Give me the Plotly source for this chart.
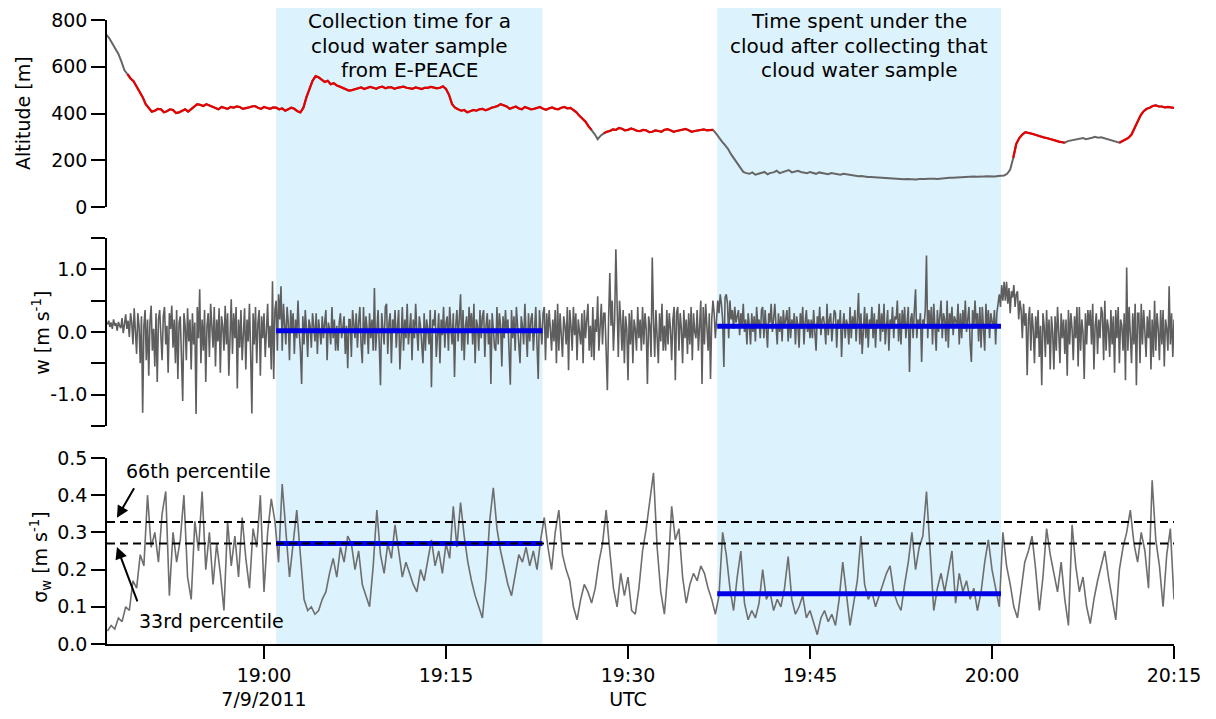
import plotly.graph_objects as go

# ---------------- data (time in minutes after 18:00 UTC, 7/9/2011) ----------------
x_range = [47.06, 135.0]
tick_vals = [60, 75, 90, 105, 120, 135]
tick_text = ["19:00<br>7/9/2011", "19:15", "19:30<br>UTC", "19:45", "20:00", "20:15"]

shade_1 = [61.0, 82.95]     # cloud water sample collection
shade_2 = [97.35, 120.74]   # time spent under the cloud

alt_t0, alt_dt = 47.0, 0.25
altitude = [
    738, 722, 700, 680, 655, 622, 585, 568, 550, 538, 515, 495, 470, 440, 425, 408,
    412, 420, 418, 405, 410, 418, 415, 402, 405, 412, 418, 408, 420, 428, 440, 437,
    432, 440, 435, 428, 425, 418, 428, 424, 420, 428, 425, 430, 428, 420, 422, 426,
    430, 432, 425, 420, 428, 424, 420, 426, 425, 418, 422, 412, 418, 425, 420, 410,
    405, 425, 470, 510, 540, 560, 555, 545, 535, 540, 525, 530, 520, 515, 510, 502,
    498, 500, 505, 510, 512, 505, 508, 514, 510, 506, 512, 515, 508, 512, 512, 506,
    510, 514, 515, 510, 508, 506, 512, 508, 505, 510, 510, 514, 512, 508, 510, 516,
    505, 480, 440, 425, 418, 412, 415, 405, 410, 415, 412, 418, 420, 414, 418, 425,
    428, 432, 440, 434, 430, 420, 425, 430, 422, 418, 428, 424, 418, 420, 425, 428,
    420, 416, 422, 426, 420, 418, 425, 428, 422, 424, 415, 405, 390, 378, 365, 345,
    330, 312, 290, 305, 315, 322, 325, 332, 330, 338, 335, 328, 330, 336, 332, 326,
    325, 330, 328, 320, 322, 328, 325, 322, 330, 333, 328, 322, 325, 328, 330, 334,
    328, 322, 325, 328, 330, 332, 328, 330, 330, 315, 295, 280, 265, 248, 225, 205,
    185, 165, 150, 145, 142, 148, 138, 142, 145, 150, 140, 146, 148, 155, 145, 150,
    152, 158, 148, 152, 155, 150, 148, 145, 150, 146, 142, 148, 145, 140, 140, 145,
    142, 138, 138, 142, 140, 136, 135, 134, 132, 133, 130, 128, 128, 127, 126, 124,
    124, 123, 122, 121, 122, 121, 120, 119, 120, 119, 118, 118, 120, 119, 120, 121,
    122, 121, 120, 122, 124, 124, 125, 125, 126, 127, 128, 129, 130, 130, 130, 129,
    128, 130, 132, 131, 130, 131, 133, 134, 135, 142, 160, 210, 270, 295, 310, 320,
    318, 314, 310, 305, 302, 298, 295, 292, 290, 284, 280, 278, 275, 282, 285, 288,
    290, 292, 295, 290, 292, 296, 300, 296, 298, 294, 290, 285, 282, 278, 275, 282,
    290, 296, 310, 340, 370, 392, 410, 420, 425, 432, 435, 430, 430, 426, 428, 425,
    424,
]
in_cloud_segments = [(48.6, 87.0), (88.0, 97.0), (121.6, 126.0), (130.5, 135.0)]

w_t0, w_dt = 47.1, 0.1
w_vals = [
    0.12, 0.18, 0.08, 0.15, 0.05, 0.2, 0.1, 0.14, 0.02, 0.16,
    0.1, 0.06, 0.22, -0.02, 0.12, 0.28, 0.05, 0.18, -0.08, 0.3,
    0.15, -0.2, 0.38, 0.05, -0.35, 0.3, 0.1, -0.5, 0.25, -1.29,
    0.1, 0.35, -0.45, 0.2, -0.7, 0.15, 0.42, -0.3, 0.05, -0.55,
    0.3, -0.8, 0.2, 0.35, -0.1, -0.45, 0.25, 0.4, -0.2, 0.1,
    -0.65, 0.3, 0.05, 0.42, -0.25, 0.2, -0.5, 0.35, -0.75, 0.15,
    0.25, -0.3, -1.1, 0.3, 0.1, -0.45, 0.38, -0.15, 0.2, -0.6,
    0.3, -0.2, 0.15, -1.31, 0.4, -0.1, 0.68, -0.5, 0.2, -0.3,
    0.35, -0.8, 0.1, 0.3, -0.4, 0.45, 0.05, -0.25, 0.4, -0.55,
    0.2, -0.15, 0.38, -0.65, 0.25, 0.1, -0.3, 0.42, -0.2, 0.3,
    -0.7, 0.15, 0.52, -0.35, 0.3, -0.1, 0.4, -0.9, 0.2, -0.25,
    0.35, -0.45, 0.1, 0.38, -0.6, 0.2, -0.15, 0.45, -0.35, -1.3,
    0.3, -0.2, 0.4, -0.5, 0.15, 0.35, -0.7, 0.25, -0.1, 0.3,
    -0.4, 0.2, 0.45, -0.25, 0.1, -0.6, 0.81, -0.75, 0.35, 0.5,
    -0.3, 0.6, 0.2, 0.73, -0.3, 0.45, 0.1, -0.2, 0.4, 0.15,
    -0.45, 0.35, 0.05, 0.3, -0.35, 0.2, -0.1, 0.5, 0.0, -0.3,
    -0.83, 0.25, -0.2, 0.35, 0.05, -0.4, 0.2, 0.1, -0.25, 0.3,
    0.1, -0.15, 0.3, -0.35, 0.2, 0.0, -0.2, 0.25, -0.1, 0.15,
    0.35, -0.45, 0.15, 0.05, -0.2, 0.4, -0.1, 0.2, -0.3, 0.1,
    -0.3, 0.15, 0.3, -0.1, 0.05, 0.25, -0.35, 0.1, -0.58, 0.2,
    0.2, -0.4, 0.35, 0.05, -0.1, 0.3, -0.25, 0.15, 0.4, -0.2,
    -0.5, 0.4, -0.2, 0.25, 0.05, -0.35, 0.3, -0.1, 0.2, -0.3,
    0.7, -0.3, 0.1, 0.35, -0.2, -0.85, 0.3, 0.05, -0.2, 0.4,
    0.45, -0.35, 0.15, 0.3, -0.5, 0.2, 0.0, 0.35, -0.25, 0.1,
    0.35, -0.6, 0.1, 0.4, -0.3, 0.2, -0.1, 0.45, -0.2, 0.05,
    0.3, -0.45, 0.2, -0.1, 0.45, 0.0, -0.3, 0.25, 0.1, -0.2,
    -0.5, 0.3, -0.3, 0.2, 0.05, -0.2, 0.35, -0.88, 0.2, 0.1,
    0.35, -0.4, 0.1, 0.3, -0.5, 0.2, -0.05, 0.4, -0.25, 0.15,
    0.25, -0.3, 0.4, 0.0, -0.2, 0.3, -0.72, 0.1, 0.35, -0.15,
    0.2, 0.6, -0.3, 0.35, -0.45, 0.1, 0.25, -0.2, 0.4, 0.05,
    0.3, -0.2, 0.45, -0.5, 0.2, 0.1, -0.3, 0.35, -0.1, 0.25,
    0.35, -0.4, 0.1, 0.3, -0.2, 0.2, -0.83, 0.3, 0.05, -0.25,
    -0.3, 0.4, -0.2, 0.3, 0.1, -0.55, 0.25, -0.1, 0.35, 0.0,
    0.2, -0.3, -0.84, 0.35, -0.1, 0.25, -0.3, 0.4, 0.05, -0.2,
    -0.5, 0.25, 0.1, -0.2, 0.45, 0.0, -0.4, 0.3, -0.15, 0.2,
    0.3, -0.3, 0.1, 0.4, -0.2, -0.75, 0.35, 0.05, -0.2, 0.3,
    0.4, -0.45, 0.3, -0.1, 0.35, 0.05, -0.3, 0.2, -0.15, 0.35,
    -0.5, 0.45, -0.3, 0.3, 0.0, -0.4, 0.25, 0.1, -0.2, 0.4,
    -0.61, 0.35, 0.1, -0.3, 0.4, -0.05, 0.3, -0.45, 0.2, 0.0,
    -0.2, 0.3, -0.5, 0.35, -0.1, 0.2, 0.45, -0.3, 0.1, -0.4,
    0.4, -0.45, 0.2, 0.0, 0.57, -0.3, 0.2, 0.45, -0.2, 0.3,
    0.3, -0.4, -0.93, 0.2, 0.94, 0.1, 0.5, -0.3, 0.2, 1.32,
    0.1, -0.4, 0.5, 0.2, -0.3, 0.35, -0.5, 0.25, 0.05, -0.77,
    0.3, -0.2, 0.35, -0.5, 0.2, 0.05, -0.3, 0.4, -0.1, 0.2,
    -0.3, 0.4, -0.2, 0.3, 0.05, -0.83, 0.25, 0.1, -0.4, 1.19,
    0.2, -0.4, 0.35, 0.0, -0.5, 0.3, -0.15, 0.45, -0.3, 0.1,
    -0.3, 0.35, -0.2, 0.3, 0.05, -0.45, 0.2, 0.4, -0.77, 0.3,
    0.4, -0.3, 0.3, 0.05, -0.5, 0.35, -0.1, 0.2, -0.35, 0.3,
    -0.2, 0.4, -0.45, 0.3, 0.0, -0.1, 0.35, -0.3, 0.2, 0.5,
    -0.83, 0.4, -0.2, 0.45, 0.1, -0.3, 0.3, -0.75, 0.2, 0.5,
    0.3, -0.1, 0.2, 0.5, 0.3, 0.6, 0.45, 0.2, -0.56, 0.55,
    0.6, 0.45, -0.1, 0.5, 0.2, 0.35, 0.05, 0.4, 0.15, 0.25,
    0.35, -0.05, 0.3, 0.1, 0.45, 0.0, 0.2, -0.2, 0.3, 0.1,
    -0.2, 0.3, 0.0, 0.25, -0.15, 0.4, 0.1, 0.2, -0.1, 0.35,
    0.4, -0.1, 0.35, 0.05, -0.25, 0.3, 0.15, 0.45, 0.0, 0.2,
    0.45, 0.1, -0.2, 0.3, 0.0, 0.25, -0.15, 0.35, 0.1, 0.2,
    0.35, -0.15, 0.4, -0.1, 0.2, 0.05, 0.3, -0.2, 0.25, 0.1,
    -0.25, 0.3, 0.05, 0.4, -0.2, 0.15, 0.35, 0.0, 0.2, -0.1,
    0.2, -0.1, 0.35, 0.0, -0.3, 0.25, 0.1, 0.4, -0.05, 0.2,
    0.25, 0.1, -0.2, 0.45, -0.05, 0.2, 0.3, -0.15, 0.1, 0.35,
    0.3, -0.25, 0.2, 0.05, 0.35, -0.4, 0.1, 0.3, -0.1, 0.2,
    0.1, -0.2, 0.4, -0.1, 0.25, 0.05, 0.35, -0.15, 0.2, 0.62,
    -0.2, 0.3, -0.35, 0.15, 0.4, -0.1, 0.3, -0.25, 0.2, 0.05,
    0.4, -0.1, 0.3, -0.25, 0.2, 0.1, 0.45, -0.15, 0.3, 0.0,
    0.45, -0.2, 0.1, 0.35, -0.3, 0.2, 0.05, 0.4, -0.1, 0.25,
    0.2, 0.5, -0.15, 0.3, -0.2, 0.35, 0.05, 0.4, -0.1, 0.2,
    0.4, -0.64, 0.2, 0.3, -0.1, 0.35, 0.68, -0.1, 0.2, 0.05,
    0.3, -0.48, 0.2, 0.1, 0.35, 1.22, -0.1, 0.35, 0.05, 0.4,
    -0.2, 0.45, 0.1, -0.3, 0.35, 0.0, 0.25, 0.5, -0.1, 0.3,
    0.2, -0.15, 0.5, -0.25, 0.3, 0.1, 0.4, -0.05, 0.25, 0.15,
    0.1, 0.45, -0.2, 0.3, -0.1, 0.35, 0.05, 0.5, 0.0, 0.2,
    0.4, -0.2, -0.48, 0.35, 0.05, 0.5, 0.1, 0.3, -0.15, 0.4,
    -0.25, 0.4, 0.1, -0.3, 0.45, 0.05, 0.35, -0.1, 0.3, 0.15,
    0.05, 0.35, -0.2, 0.3, 0.45, 0.6, 0.4, 0.75, 0.5, 0.8,
    0.5, 0.8, 0.45, 0.7, 0.3, 0.65, 0.55, 0.75, 0.4, 0.6,
    0.65, 0.2, 0.5, 0.35, -0.1, 0.45, 0.1, 0.3, -0.69, 0.2,
    0.4, -0.3, 0.3, 0.05, -0.5, 0.25, -0.1, 0.35, -0.4, 0.1,
    -0.85, 0.3, 0.1, -0.4, 0.35, -0.2, 0.2, -0.6, 0.25, 0.0,
    -0.6, 0.25, -0.3, 0.4, 0.0, -0.5, 0.3, -0.1, 0.2, -0.35,
    0.2, -0.7, 0.35, -0.2, 0.3, 0.05, -0.45, 0.25, -0.1, 0.4,
    -0.55, 0.4, -0.3, 0.2, 0.0, -0.75, 0.3, -0.2, 0.35, 0.1,
    0.35, -0.2, 0.45, -0.6, 0.1, 0.3, -0.35, 0.2, -0.1, 0.4,
    0.3, -0.45, 0.5, -0.3, 0.2, 0.05, -0.4, 0.35, -0.2, 0.25,
    -0.65, 0.35, -0.1, 0.4, -0.5, 0.2, 0.1, -0.3, 0.3, -0.77,
    1.03, -0.3, 0.4, 0.05, -0.5, 0.3, -0.2, 0.45, -0.85, 0.3,
    0.3, -0.5, 0.45, -0.2, 0.35, 0.0, -0.4, 0.25, -0.1, 0.35,
    -0.6, 0.2, -0.4, 0.5, -0.3, 0.3, 0.05, -0.45, 0.35, -0.2,
    0.35, -0.55, 0.2, 0.05, -0.3, 0.73, -0.2, 0.3, -0.4, 0.2,
]

sig_t0, sig_dt = 47.1, 0.3
sigma_w = [
    0.035, 0.05, 0.04, 0.07, 0.06, 0.10, 0.09, 0.17, 0.15, 0.24, 0.21, 0.40, 0.26, 0.30, 0.22, 0.35,
    0.41, 0.13, 0.30, 0.22, 0.28, 0.40, 0.18, 0.12, 0.33, 0.25, 0.41, 0.20, 0.30, 0.16, 0.27, 0.19,
    0.09, 0.33, 0.21, 0.29, 0.18, 0.34, 0.23, 0.15, 0.31, 0.26, 0.40, 0.14, 0.30, 0.39, 0.33,
    0.22, 0.43, 0.30, 0.18, 0.27, 0.36, 0.24, 0.12, 0.09, 0.10, 0.08, 0.09, 0.12, 0.14, 0.19, 0.23,
    0.18, 0.26, 0.22, 0.29, 0.27, 0.20, 0.25, 0.16, 0.13, 0.10, 0.21, 0.36, 0.24, 0.19, 0.27, 0.23,
    0.32, 0.25, 0.18, 0.22, 0.19, 0.16, 0.14, 0.20, 0.17, 0.22, 0.28, 0.21, 0.25, 0.19, 0.27, 0.23,
    0.37, 0.26, 0.38, 0.29, 0.22, 0.17, 0.13, 0.10, 0.07, 0.18, 0.33, 0.42, 0.31, 0.25, 0.20, 0.16,
    0.13, 0.19, 0.24, 0.22, 0.26, 0.21, 0.25, 0.20, 0.28, 0.34,
    0.26, 0.20, 0.30, 0.36, 0.24, 0.20, 0.17, 0.10, 0.065, 0.12, 0.16, 0.14, 0.11, 0.15, 0.22, 0.27,
    0.36, 0.25, 0.15, 0.10, 0.19, 0.13, 0.18, 0.09, 0.08, 0.15, 0.25, 0.31, 0.39, 0.46, 0.26, 0.14,
    0.08, 0.20, 0.37, 0.28, 0.31, 0.18, 0.11, 0.16, 0.19, 0.17, 0.21, 0.19, 0.15, 0.12, 0.08,
    0.13, 0.30, 0.24, 0.15, 0.09, 0.18, 0.25, 0.11, 0.065, 0.09, 0.07, 0.11, 0.20, 0.12, 0.14, 0.09,
    0.12, 0.10, 0.15, 0.235, 0.12, 0.08, 0.10, 0.13, 0.07, 0.09, 0.06, 0.025, 0.07, 0.09, 0.06, 0.08,
    0.05, 0.12, 0.22, 0.14, 0.05, 0.11, 0.17, 0.29, 0.16, 0.12, 0.14, 0.10, 0.13, 0.16, 0.19, 0.21,
    0.14, 0.11, 0.09, 0.16, 0.22, 0.30, 0.20, 0.26, 0.29, 0.41, 0.25, 0.09, 0.15, 0.19, 0.14, 0.20,
    0.25, 0.11, 0.19, 0.14, 0.17, 0.12, 0.15, 0.09, 0.14, 0.22, 0.28, 0.20, 0.15, 0.10,
    0.30, 0.21, 0.16, 0.10, 0.07, 0.15, 0.22, 0.25, 0.29, 0.20, 0.09, 0.18, 0.31, 0.24, 0.19, 0.14,
    0.22, 0.12, 0.05, 0.32, 0.21, 0.14, 0.18, 0.10, 0.055, 0.12, 0.17, 0.21, 0.25, 0.18, 0.12, 0.065,
    0.20, 0.26, 0.30, 0.36, 0.27, 0.22, 0.30, 0.25, 0.15, 0.44, 0.28, 0.21, 0.10, 0.24, 0.31, 0.12,
]

w_means = [0.02, 0.09]          # mean w over the two intervals
sigma_means = [0.27, 0.135]     # mean sigma_w over the two intervals
p66, p33 = 0.328, 0.27          # percentiles of sigma_w

# ---------------- derived series ----------------
alt_t = [alt_t0 + i * alt_dt for i in range(len(altitude))]
w_t = [w_t0 + i * w_dt for i in range(len(w_vals))]
sig_t = [sig_t0 + i * sig_dt for i in range(len(sigma_w))]


def in_cloud(t):
    return any(a - 1e-9 <= t <= b + 1e-9 for a, b in in_cloud_segments)


alt_red = [a if in_cloud(t) else None for t, a in zip(alt_t, altitude)]

FONT = "DejaVu Sans, Arial, sans-serif"
GRAY = "#5e5e5e"
RED = "#e60000"
BLUE = "#0000e6"
SHADE = "#dcf2fc"

fig = go.Figure()

# altitude
fig.add_trace(go.Scatter(x=alt_t, y=altitude, mode="lines", line=dict(color="#666666", width=2),
                         xaxis="x", yaxis="y", showlegend=False))
fig.add_trace(go.Scatter(x=alt_t, y=alt_red, mode="lines", line=dict(color=RED, width=2.2),
                         connectgaps=False, xaxis="x", yaxis="y", showlegend=False))

# w
fig.add_trace(go.Scatter(x=w_t, y=w_vals, mode="lines", line=dict(color=GRAY, width=1.6),
                         xaxis="x", yaxis="y2", showlegend=False))
for (a, b), m in zip([shade_1, shade_2], w_means):
    fig.add_trace(go.Scatter(x=[a, b], y=[m, m], mode="lines", line=dict(color=BLUE, width=5),
                             xaxis="x", yaxis="y2", showlegend=False))

# sigma_w
fig.add_trace(go.Scatter(x=sig_t, y=sigma_w, mode="lines", line=dict(color="#6e6e6e", width=1.6),
                         xaxis="x", yaxis="y3", showlegend=False))
for (a, b), m in zip([shade_1, shade_2], sigma_means):
    fig.add_trace(go.Scatter(x=[a, b], y=[m, m], mode="lines", line=dict(color=BLUE, width=5),
                             xaxis="x", yaxis="y3", showlegend=False))
for p in (p66, p33):
    fig.add_trace(go.Scatter(x=x_range, y=[p, p], mode="lines",
                             line=dict(color="black", width=2, dash="8px,5px"),
                             xaxis="x", yaxis="y3", showlegend=False))

# shaded intervals
for a, b in (shade_1, shade_2):
    fig.add_shape(type="rect", xref="x", yref="paper", x0=a, x1=b, y0=0, y1=1,
                  fillcolor=SHADE, line_width=0, layer="below")

tickfont = dict(family=FONT, size=19, color="black")
yax_common = dict(showline=True, linecolor="black", linewidth=1.5, ticks="outside", ticklen=14,
                  tickwidth=1.5, tickcolor="black", showgrid=False, zeroline=False,
                  tickfont=tickfont, anchor="x", fixedrange=True, automargin=False)

# the page body adds an 8 px offset; margins compensate for it
fig.update_layout(
    width=1216, height=719,
    margin=dict(l=99, r=50, t=0, b=83, pad=0),
    paper_bgcolor="white", plot_bgcolor="rgba(0,0,0,0)",
    xaxis=dict(domain=[0, 1], anchor="y3", range=x_range, showline=True, linecolor="black",
               linewidth=1.5, ticks="outside", ticklen=13, tickwidth=1.5, tickcolor="black",
               tickvals=tick_vals, ticktext=tick_text, showgrid=False, zeroline=False,
               tickfont=tickfont, automargin=False),
    yaxis=dict(domain=[0.6871, 0.9811], range=[0, 800], tickvals=[0, 200, 400, 600, 800],
               **yax_common),
    yaxis2=dict(domain=[0.3428, 0.6384], range=[-1.5, 1.5],
                tickvals=[-1.0, 0.0, 1.0], ticktext=["-1.0", "0.0", "1.0"],
                minor=dict(tickvals=[-1.5, -0.5, 0.5, 1.5], ticks="outside", ticklen=14,
                           tickwidth=1.5, tickcolor="black", showgrid=False),
                **yax_common),
    yaxis3=dict(domain=[0, 0.2925], range=[0, 0.5], tickvals=[0, 0.1, 0.2, 0.3, 0.4, 0.5],
                tickformat=".1f", **yax_common),
)

annfont = dict(family=FONT, size=20, color="black")
label_1 = ["Collection time for a", "cloud water sample", "from E-PEACE"]
label_2 = ["Time spent under the", "cloud after collecting that", "cloud water sample"]
line_y = [0.9791, 0.9398, 0.9021]

ann = []
for lines, (a, b) in ((label_1, shade_1), (label_2, shade_2)):
    for txt, yy in zip(lines, line_y):
        ann.append(dict(text=txt, x=(a + b) / 2, xref="x", y=yy, yref="paper",
                        xanchor="center", yanchor="middle", showarrow=False, font=annfont))

ann += [
    # axis titles
    dict(text="Altitude [m]", textangle=-90, xref="paper", yref="paper", x=-0.0787, y=0.8349,
         xanchor="center", yanchor="middle", showarrow=False, font=tickfont),
    dict(text="w [m s<sup>-1</sup>]", textangle=-90, xref="paper", yref="paper", x=-0.062,
         y=0.489, xanchor="center", yanchor="middle", showarrow=False, font=tickfont),
    dict(text="σ<sub>w</sub> [m s<sup>-1</sup>]", textangle=-90, xref="paper", yref="paper",
         x=-0.062, y=0.1368, xanchor="center", yanchor="middle", showarrow=False, font=tickfont),
    # percentile labels
    dict(text="66th percentile", x=54.56, y=0.465, xref="x", yref="y3", showarrow=False,
         xanchor="center", yanchor="middle", font=tickfont),
    dict(text="33rd percentile", x=55.71, y=0.062, xref="x", yref="y3", showarrow=False,
         xanchor="center", yanchor="middle", font=tickfont),
    dict(text="", x=47.88, y=0.339, xref="x", yref="y3", showarrow=True, ax=18, ay=-31,
         arrowhead=2, arrowsize=1.2, arrowwidth=2, arrowcolor="black", standoff=0),
    dict(text="", x=47.88, y=0.261, xref="x", yref="y3", showarrow=True, ax=21, ay=56,
         arrowhead=2, arrowsize=1.2, arrowwidth=2, arrowcolor="black", standoff=0),
]
fig.update_layout(annotations=ann)

fig.write_html("out.html")
